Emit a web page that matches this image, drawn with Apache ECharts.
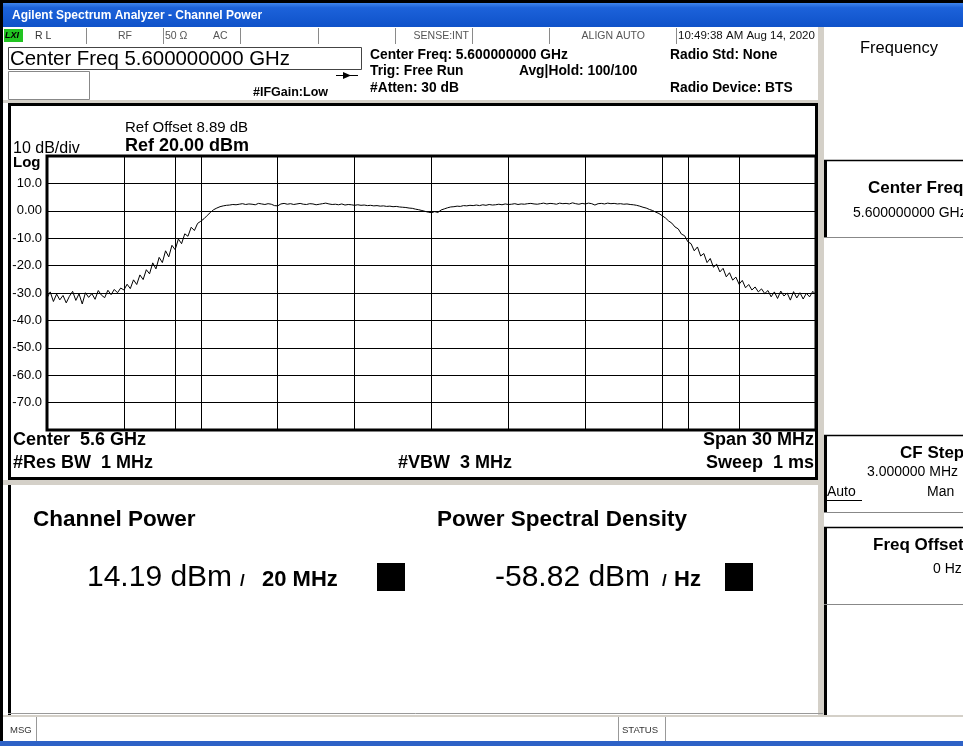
<!DOCTYPE html>
<html>
<head>
<meta charset="utf-8">
<script src="https://cdn.jsdelivr.net/npm/echarts@6/dist/echarts.min.js"></script>
<style>
html,body{margin:0;padding:0;background:#000;}
#chart{width:963px;height:746px;}
</style>
</head>
<body>
<div id="chart"></div>
<script>
// ---- Sweep (frequency offset from 5.6 GHz centre, MHz) ----
const sweepStartMHz = -15;
const sweepStepMHz = 0.125;

// ---- Trace level readings (dBm), one per sweep point ----
const levelDbm = [
  -31.8, -29.6, -33.1, -30.4, -32.5, -30.9, -33.6, -31.2, -29.4, -32.7,
  -30.3, -34.0, -29.9, -31.6, -30.2, -32.3, -29.1, -30.8, -31.7, -29.0,
  -30.6, -28.7, -29.9, -28.2, -28.9,
  -26.8, -28.4, -25.2, -26.9, -23.4, -25.1, -21.5, -23.0, -19.0, -21.2,
  -17.0, -18.9, -14.6, -16.8, -12.6, -14.2, -10.3, -12.0, -8.4, -9.3,
  -6.0, -7.2, -4.6, -3.8, -2.9, -1.7, -0.6, 0.4, 1.0, 1.5, 1.8, 2.0,
  2.1, 2.3, 2.2, 2.4, 2.6, 2.3, 2.5, 2.4, 2.2, 2.7,
  2.5, 2.3, 2.6, 2.4, 1.9, 1.8, 2.5, 2.7, 2.4, 2.6,
  2.3, 2.5, 2.7, 2.4, 2.3, 2.6, 2.5, 2.2, 2.4, 2.6,
  2.8, 2.5, 2.3, 2.4, 2.2, 2.5, 2.1, 2.3, 2.2, 2.0,
  2.2, 2.0, 2.1, 1.9, 2.0, 1.8, 1.9, 1.7, 1.8, 1.6,
  1.7, 1.5, 1.6, 1.4, 1.3, 1.2, 1.0, 0.9, 0.6, 0.4,
  0.1, -0.2, -0.5, -0.7, -0.3, -0.6, 0.3, 0.7, 1.1, 1.4,
  1.5, 1.7, 1.6, 1.9, 1.8, 2.0, 1.9, 2.1, 1.9, 2.2,
  2.0, 2.3, 2.1, 2.2,
  2.4, 2.2, 2.5, 2.3, 2.4, 2.6, 2.3, 2.5, 2.4, 2.6,
  2.7, 2.5, 2.4, 2.6, 2.8, 2.5, 2.7, 2.6, 2.4, 2.8,
  2.6, 2.7, 2.5, 2.9, 2.6, 2.4, 2.7, 2.5, 2.8, 2.6,
  2.1, 2.6, 2.7, 2.5, 2.8, 2.6, 2.7, 2.5, 2.6, 2.4,
  2.5, 2.3, 2.2, 2.0,
  1.7, 1.3, 1.0, 0.5, 0.1, -0.5, -1.0, -1.8, -2.6, -3.7,
  -4.5, -5.9, -6.6, -8.5, -9.1, -11.3, -12.0, -14.6, -13.2, -16.5,
  -15.6, -18.9, -17.4, -20.6, -19.5, -22.3, -21.0, -24.1, -22.6, -25.3,
  -24.2, -26.8, -25.4, -28.1, -26.9, -28.9, -27.8, -29.6, -28.5, -30.2,
  -29.1, -31.4, -29.6, -32.0, -29.3, -31.1, -30.0, -32.6, -29.5, -31.8,
  -29.9, -32.2, -30.1, -31.4, -29.4, -30.6
];

// ---- Channel integration edges (MHz offset) ----
const channelEdgesMHz = [-10, 10];

// ---- Axis ticks ----
const yTickValues = [10, 0, -10, -20, -30, -40, -50, -60, -70];
const yTickLabels = ['10.0', '0.00', '-10.0', '-20.0', '-30.0', '-40.0', '-50.0', '-60.0', '-70.0'];

const traceData = levelDbm.map((v, i) => [sweepStartMHz + i * sweepStepMHz, v]);

const FONT = '"Liberation Sans", Arial, sans-serif';
const GRAY = '#D4D0C8';

function R(x, y, w, h, fill, extra) {
  return Object.assign({ type: 'rect', shape: { x, y, width: w, height: h }, style: { fill }, z: 5 }, extra || {});
}
function SR(x, y, w, h, stroke, lw) {
  return { type: 'rect', shape: { x, y, width: w, height: h }, style: { fill: null, stroke, lineWidth: lw }, z: 6 };
}
function L(x1, y1, x2, y2, stroke, lw) {
  return { type: 'line', shape: { x1, y1, x2, y2 }, style: { stroke, lineWidth: lw || 1 }, z: 6 };
}
function T(x, y, text, size, opts) {
  opts = opts || {};
  return {
    type: 'text', x, y, z: 10,
    style: {
      text,
      font: (opts.italic ? 'italic ' : '') + (opts.bold ? 'bold ' : '') + size + 'px ' + (opts.family || FONT),
      fill: opts.color || '#000',
      textAlign: opts.align || 'left',
      textVerticalAlign: 'middle'
    }
  };
}

const els = [
  // window frame
  R(0, 0, 963, 3, '#000'),
  R(0, 0, 3, 746, '#000'),
  // title bar
  R(3, 3, 960, 24, {
    type: 'linear', x: 0, y: 0, x2: 0, y2: 1,
    colorStops: [{ offset: 0, color: '#3F86EE' }, { offset: 0.2, color: '#1C62DA' }, { offset: 1, color: '#0F52C9' }]
  }),
  T(12, 16, 'Agilent Spectrum Analyzer - Channel Power', 12, { bold: true, color: '#fff' }),
  // status row
  R(3, 27, 815, 18, '#fff'),
  R(4, 29, 19, 13, '#21C421'),
  T(5, 36, 'LXI', 9, { bold: true, italic: true }),
  T(35, 36, 'R L', 10.5, { color: '#333' }),
  T(118, 36, 'RF', 10.5, { color: '#555' }),
  T(165, 36, '50 Ω', 10.5, { color: '#555' }),
  T(213, 36, 'AC', 10.5, { color: '#555' }),
  T(469, 36, 'SENSE:INT', 10.5, { color: '#555', align: 'right' }),
  T(645, 36, 'ALIGN AUTO', 10.5, { color: '#555', align: 'right' }),
  T(678, 36, '10:49:38 AM Aug 14, 2020', 11.5, { color: '#111' }),
  // row 2
  SR(8.5, 47.5, 353, 22, '#444', 1),
  T(10, 59, 'Center Freq 5.600000000 GHz', 20.4, {}),
  SR(8.5, 71.5, 81, 28, '#888', 1),
  L(336, 75.5, 358, 75.5, '#000', 1),
  { type: 'polygon', shape: { points: [[343, 72], [351, 75.5], [343, 79]] }, style: { fill: '#000' }, z: 6 },
  T(253, 93, '#IFGain:Low', 12.5, { bold: true }),
  T(370, 55, 'Center Freq: 5.600000000 GHz', 13.8, { bold: true }),
  T(370, 71, 'Trig: Free Run', 13.8, { bold: true }),
  T(370, 88, '#Atten: 30 dB', 13.8, { bold: true }),
  T(519, 71, 'Avg|Hold: 100/100', 13.8, { bold: true }),
  T(670, 55, 'Radio Std: None', 13.8, { bold: true }),
  T(670, 88, 'Radio Device: BTS', 13.8, { bold: true }),
  // separator above graph panel
  R(3, 100, 815, 3, GRAY),
  // main graph panel frame
  SR(9.5, 104.5, 807, 374, '#000', 3),
  T(125, 128, 'Ref Offset 8.89 dB', 15, {}),
  T(125, 146, 'Ref 20.00 dBm', 18, { bold: true }),
  T(13, 149, '10 dB/div', 16, {}),
  T(13, 163, 'Log', 15, { bold: true }),
  T(13, 440, 'Center  5.6 GHz', 18, { bold: true }),
  T(13, 463, '#Res BW  1 MHz', 18, { bold: true }),
  T(398, 463, '#VBW  3 MHz', 18, { bold: true }),
  T(814, 440, 'Span 30 MHz', 18, { bold: true, align: 'right' }),
  T(814, 463, 'Sweep  1 ms', 18, { bold: true, align: 'right' }),
  // separator between graph and result panels
  R(3, 480, 820, 5, GRAY),
  // result panel
  R(8, 485, 3, 230, '#000'),
  L(8, 713.5, 823, 713.5, '#999', 1),
  T(33, 520, 'Channel Power', 22.5, { bold: true }),
  T(87, 578, '14.19 dBm', 30, {}),
  T(240, 581, '/', 17, { bold: true }),
  T(262, 580, '20 MHz', 22, { bold: true }),
  R(377, 563, 28, 28, '#000'),
  T(437, 520, 'Power Spectral Density', 22.5, { bold: true }),
  T(495, 578, '-58.82 dBm', 30, {}),
  T(662, 581, '/', 17, { bold: true }),
  T(674, 580, 'Hz', 22, { bold: true }),
  R(725, 563, 28, 28, '#000'),
  // right soft-key panel
  R(818, 27, 6, 689, GRAY),
  T(899, 48, 'Frequency', 16.5, { align: 'center' }),
  // soft key: Center Freq
  L(824, 160.5, 963, 160.5, '#000', 1.5),
  R(824, 160, 3, 77, '#000'),
  L(824, 237.5, 963, 237.5, '#888', 1),
  T(868, 188, 'Center Freq', 17, { bold: true }),
  T(853, 213, '5.600000000 GHz', 14, {}),
  // soft key: CF Step
  L(824, 435.5, 963, 435.5, '#000', 1.5),
  R(824, 435, 3, 77, '#000'),
  L(824, 512.5, 963, 512.5, '#888', 1),
  T(900, 453, 'CF Step', 17, { bold: true }),
  T(867, 472, '3.000000 MHz', 14, {}),
  T(827, 492, 'Auto', 14, {}),
  L(827, 500.5, 862, 500.5, '#000', 1),
  T(927, 492, 'Man', 14, {}),
  // soft key: Freq Offset
  L(824, 527.5, 963, 527.5, '#000', 1.5),
  R(824, 527, 3, 77, '#000'),
  L(824, 604.5, 963, 604.5, '#888', 1),
  T(873, 545, 'Freq Offset', 17, { bold: true }),
  T(933, 569, '0 Hz', 14, {}),
  // empty soft key area
  R(824, 604, 3, 111, '#000'),
  // status bar
  R(3, 715, 960, 2, GRAY),
  R(3, 717, 960, 24, '#fff'),
  L(36.5, 717, 36.5, 741, '#999', 1),
  L(618.5, 717, 618.5, 741, '#999', 1),
  L(665.5, 717, 665.5, 741, '#999', 1),
  T(10, 730, 'MSG', 9.5, { color: '#333' }),
  T(622, 730, 'STATUS', 9.5, { color: '#333' }),
  R(0, 741, 963, 5, '#2E62C6')
];
// status row dividers
[86, 163, 240, 318, 395, 472, 549, 676].forEach(x => els.push(L(x + 0.5, 28, x + 0.5, 44, '#8a8a8a', 1)));

const chart = echarts.init(document.getElementById('chart'), null, { renderer: 'canvas' });
chart.setOption({
  backgroundColor: '#fff',
  animation: false,
  grid: { left: 47, top: 156, width: 769, height: 274, show: true, borderColor: '#000', borderWidth: 3, backgroundColor: 'transparent' },
  xAxis: {
    type: 'value', min: -15, max: 15, interval: 3,
    axisLine: { show: false }, axisTick: { show: false }, axisLabel: { show: false },
    splitLine: { show: true, lineStyle: { color: '#000', width: 1 } }
  },
  yAxis: {
    type: 'value', min: -80, max: 20, interval: 10,
    axisLine: { show: false }, axisTick: { show: false },
    axisLabel: {
      margin: 5, color: '#000', fontSize: 13, fontFamily: FONT,
      formatter: v => { const k = yTickValues.indexOf(v); return k < 0 ? '' : yTickLabels[k]; }
    },
    splitLine: { show: true, lineStyle: { color: '#000', width: 1 } }
  },
  series: [{
    type: 'line', data: traceData, showSymbol: false, symbol: 'none',
    lineStyle: { color: '#000', width: 1 }, z: 3,
    markLine: {
      silent: true, symbol: 'none', label: { show: false },
      lineStyle: { color: '#000', width: 1, type: 'solid' },
      data: channelEdgesMHz.map(x => ({ xAxis: x }))
    }
  }],
  graphic: { elements: els }
});
</script>
</body>
</html>
